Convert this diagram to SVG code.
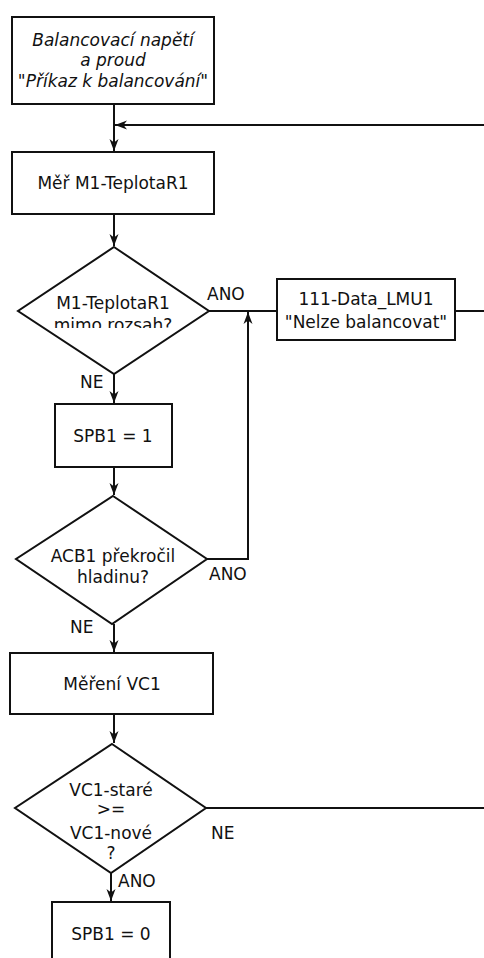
<svg xmlns="http://www.w3.org/2000/svg" width="484" height="958" viewBox="0 0 484 958">
  <defs>
    <marker id="arr" viewBox="0 0 12 10" refX="12" refY="5" markerWidth="12" markerHeight="10" markerUnits="userSpaceOnUse" orient="auto">
      <path d="M0,0.5 L12,5 L0,9.5 L3.5,5 Z" fill="#111"/>
    </marker>
    <clipPath id="clipD1">
      <rect x="0" y="240" width="240" height="88"/>
    </clipPath>
  </defs>
  <style>
    .box { fill: #fff; stroke: #111; stroke-width: 2; }
    .lbl { font-family: "DejaVu Sans", "Liberation Sans", sans-serif; font-size: 17px; fill: #111; }
    .c { text-anchor: middle; }
    .it { font-style: italic; }
    .con { fill: none; stroke: #111; stroke-width: 2; }
  </style>
  <rect width="484" height="958" fill="#fff"/>

  <g id="connectors">
    <path class="con" d="M114,104 V151" marker-end="url(#arr)"/>
    <path class="con" d="M484,125 H115" marker-end="url(#arr)"/>
    <path class="con" d="M114,214 V246" marker-end="url(#arr)"/>
    <path class="con" d="M209,311 H277"/>
    <path class="con" d="M455,311 H484"/>
    <path class="con" d="M114,374 V403" marker-end="url(#arr)"/>
    <path class="con" d="M114,467 V495" marker-end="url(#arr)"/>
    <path class="con" d="M207,559 H248 V312" marker-end="url(#arr)"/>
    <path class="con" d="M114,624 V652" marker-end="url(#arr)"/>
    <path class="con" d="M114,714 V743" marker-end="url(#arr)"/>
    <path class="con" d="M206,808 H484"/>
    <path class="con" d="M111,873 V901" marker-end="url(#arr)"/>
    <text class="lbl" x="207" y="300">ANO</text>
    <text class="lbl" x="80" y="388">NE</text>
    <text class="lbl" x="209" y="580">ANO</text>
    <text class="lbl" x="70" y="633">NE</text>
    <text class="lbl" x="211" y="839">NE</text>
    <text class="lbl" x="118" y="887">ANO</text>
  </g>

  <g id="start">
    <rect class="box" x="12" y="17" width="202" height="87"/>
    <text class="lbl c it" x="113" y="46">Balancovací napětí</text>
    <text class="lbl c it" x="113" y="66">a proud</text>
    <text class="lbl c" x="113" y="87">"<tspan class="it">Příkaz k balancování</tspan>"</text>
  </g>

  <g id="measure-temp">
    <rect class="box" x="12" y="152" width="202" height="62"/>
    <text class="lbl c" x="113" y="189">Měř M1-TeplotaR1</text>
  </g>

  <g id="temp-range">
    <polygon class="box" points="114,247 209,311 114,374 18,311"/>
    <g clip-path="url(#clipD1)">
      <text class="lbl c" x="113" y="309">M1-TeplotaR1</text>
      <text class="lbl c" x="113" y="331">mimo rozsah?</text>
    </g>
  </g>

  <g id="data-lmu">
    <rect class="box" x="277" y="279" width="178" height="61"/>
    <text class="lbl c" x="366" y="305">111-Data_LMU1</text>
    <text class="lbl c" x="366" y="328">"Nelze balancovat"</text>
  </g>

  <g id="spb-set">
    <rect class="box" x="55" y="404" width="117" height="63"/>
    <text class="lbl c" x="113" y="442">SPB1 = 1</text>
  </g>

  <g id="acb-level">
    <polygon class="box" points="113,496 207,559 112,624 16,559"/>
    <text class="lbl c" x="113" y="562">ACB1 překročil</text>
    <text class="lbl c" x="113" y="583">hladinu?</text>
  </g>

  <g id="measure-vc">
    <rect class="box" x="10" y="653" width="203" height="61"/>
    <text class="lbl c" x="112" y="690">Měření VC1</text>
  </g>

  <g id="vc-compare">
    <polygon class="box" points="112,744 206,808 111,873 15,808"/>
    <text class="lbl c" x="111" y="796">VC1-staré</text>
    <text class="lbl c" x="111" y="815">&gt;=</text>
    <text class="lbl c" x="111" y="839">VC1-nové</text>
    <text class="lbl c" x="111" y="859">?</text>
  </g>

  <g id="spb-clear">
    <rect class="box" x="52" y="902" width="118" height="70"/>
    <text class="lbl c" x="111" y="940">SPB1 = 0</text>
  </g>
</svg>
